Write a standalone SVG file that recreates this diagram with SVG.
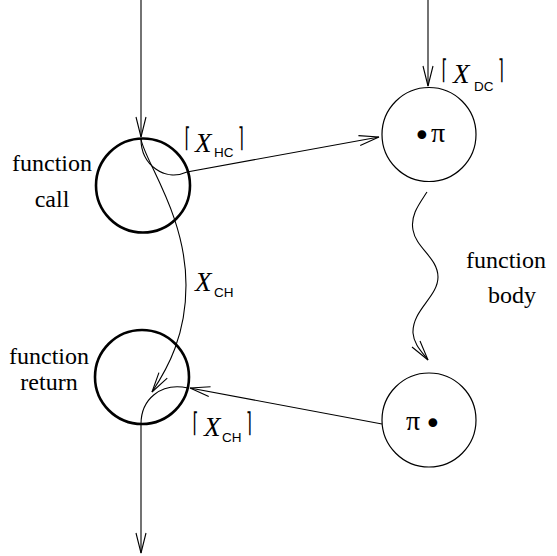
<svg xmlns="http://www.w3.org/2000/svg" width="557" height="556" viewBox="0 0 557 556">
<defs>
<style>
.thick{fill:none;stroke:#000;stroke-width:2.6}
.thin{fill:none;stroke:#000;stroke-width:1.2}
.c{fill:none;stroke:#000;stroke-width:1.1}
.lbl{font-family:"Liberation Serif","Times New Roman",serif;font-size:24px;fill:#000}
.X{font-family:"Liberation Serif","Times New Roman",serif;font-style:italic;font-size:27px}
.sub{font-family:"Liberation Sans",Arial,sans-serif;font-size:13.5px}
.br{font-family:"DejaVu Sans",sans-serif;font-size:27px}
.pi{font-family:"Liberation Serif","Times New Roman",serif;font-size:28px}
.dot{font-family:"DejaVu Sans",sans-serif;font-size:30px}
</style>
<marker id="arr" markerUnits="userSpaceOnUse" markerWidth="24" markerHeight="14" viewBox="-22 -7 24 14" refX="0" refY="0" orient="auto">
<path d="M-20,-5 L0,0 L-20,5" fill="none" stroke="#000" stroke-width="1.1"/>
</marker>
</defs>
<rect width="557" height="556" fill="#fff"/>
<g id="connectors">
<path class="c" d="M141,0 L141,137" marker-end="url(#arr)"/>
<path class="c" d="M428,0 L428,86" marker-end="url(#arr)"/>
<path class="c" d="M141,139 C141,165 165,182 187,172 L379,137" marker-end="url(#arr)"/>
<path class="c" d="M141,139 C144,160 186,215 186,285 C186,335 168,368 152,392" marker-end="url(#arr)"/>
<path class="c" d="M382,424 L190,388" marker-end="url(#arr)"/>
<path class="c" d="M188,388 C160,382 141,400 141,424 L141,553" marker-end="url(#arr)"/>
<path class="c" d="M427,192 C420,203 410,215 413,230 C416,248 438,258 438,277 C438,297 412,310 413,333 C414,345 422,352 428,360" marker-end="url(#arr)"/>
</g>
<g id="call">
<circle class="thick" cx="143" cy="185.5" r="47"/>
<text class="lbl" text-anchor="middle"><tspan x="52" y="171">function</tspan><tspan x="52" y="207">call</tspan></text>
</g>
<g id="return">
<circle class="thick" cx="142" cy="377" r="47"/>
<text class="lbl" text-anchor="middle"><tspan x="49" y="364">function</tspan><tspan x="49" y="390">return</tspan></text>
</g>
<g id="entry">
<circle class="thin" cx="429" cy="134.5" r="47"/>
<text><tspan class="dot" x="413" y="146">•</tspan><tspan class="pi" x="431" y="142">π</tspan></text>
</g>
<g id="exit">
<circle class="thin" cx="429" cy="420" r="47"/>
<text><tspan class="pi" x="406" y="430">π</tspan><tspan class="dot" x="424" y="434">•</tspan></text>
</g>
<g id="labels">
<text class="br" transform="translate(184.5,146.5) scale(0.55,1)">⌈</text>
<text><tspan class="X" x="195" y="152">X</tspan><tspan class="sub" x="214" y="157">HC</tspan></text>
<text class="br" transform="translate(238,146.5) scale(0.55,1)">⌉</text>
<text class="br" transform="translate(441.5,79) scale(0.55,1)">⌈</text>
<text><tspan class="X" x="453" y="83">X</tspan><tspan class="sub" x="474" y="91">DC</tspan></text>
<text class="br" transform="translate(498,79) scale(0.55,1)">⌉</text>
<text><tspan class="X" x="195" y="291">X</tspan><tspan class="sub" x="214" y="297">CH</tspan></text>
<text class="br" transform="translate(192.5,432) scale(0.55,1)">⌈</text>
<text><tspan class="X" x="204" y="436">X</tspan><tspan class="sub" x="222" y="442">CH</tspan></text>
<text class="br" transform="translate(246,432) scale(0.55,1)">⌉</text>
<text class="lbl"><tspan x="466" y="268">function</tspan><tspan x="488" y="303">body</tspan></text>
</g>
</svg>
